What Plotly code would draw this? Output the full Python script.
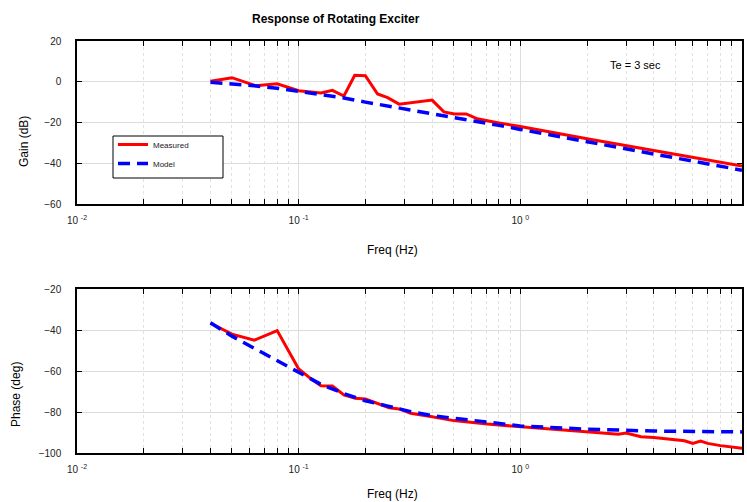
import plotly.graph_objects as go

# ---- data ----
gain_meas_f = [0.04, 0.05, 0.064, 0.08, 0.1, 0.126, 0.142, 0.16, 0.179, 0.2, 0.227, 0.252,
               0.284, 0.315, 0.356, 0.4, 0.452, 0.505, 0.57, 0.64, 0.8, 1.0, 2.0, 4.0, 8.0, 10.0]
gain_meas = [0.2, 2.0, -2.0, -1.0, -4.4, -5.5, -4.2, -7.0, 3.2, 3.0, -6.0, -7.8,
             -11.0, -10.5, -9.8, -9.0, -14.8, -15.8, -15.8, -18.2, -20.2, -22.0, -28.0, -33.6, -39.5, -41.3]

gain_model_f = [0.04, 0.05, 0.063, 0.08, 0.1, 0.126, 0.16, 0.2, 0.25, 0.32, 0.4, 0.5, 0.63,
                0.8, 1.0, 2.0, 4.0, 10.0]
gain_model = [-0.3, -1.0, -2.0, -3.2, -4.7, -6.2, -8.0, -10.0, -11.8, -13.8, -15.6, -17.3,
              -19.3, -21.4, -23.4, -29.4, -35.4, -43.4]

phase_meas_f = [0.04, 0.05, 0.063, 0.08, 0.1, 0.113, 0.126, 0.142, 0.16, 0.18, 0.2, 0.235,
                0.256, 0.284, 0.32, 0.4, 0.5, 0.71, 1.0, 2.0, 2.77, 3.0, 3.5, 4.0, 5.5, 6.0,
                6.5, 7.0, 8.0, 10.0]
phase_meas = [-36.7, -42.0, -45.0, -40.3, -59.0, -63.6, -67.2, -67.3, -71.7, -73.3, -73.7, -76.5,
              -77.9, -78.5, -80.6, -82.3, -84.2, -85.9, -87.2, -89.6, -90.9, -90.3, -92.1, -92.4,
              -94.0, -95.3, -94.2, -95.3, -96.4, -97.7]

phase_model_f = [0.04, 0.05, 0.063, 0.08, 0.1, 0.126, 0.16, 0.2, 0.25, 0.32, 0.4, 0.5, 1.0,
                 2.0, 4.0, 10.0]
phase_model = [-36.5, -43.0, -48.9, -55.0, -60.3, -66.5, -71.0, -74.5, -77.0, -79.8, -81.8,
               -83.0, -86.8, -88.4, -89.3, -89.7]

x_major = [0.01, 0.1, 1, 10]
x_major_text = ["10 <sup>-2</sup>", "10 <sup>-1</sup>", "10 <sup>0</sup>", "10 <sup>1</sup>"]
x_minor = [m * d for d in (0.01, 0.1, 1) for m in range(2, 10)]
gain_ticks = [-60, -40, -20, 0, 20]
phase_ticks = [-100, -80, -60, -40, -20]

FONT = "Liberation Sans, Arial, sans-serif"
RED = "#ff0000"
BLUE = "#0000ff"

fig = go.Figure()
fig.add_trace(go.Scatter(x=gain_meas_f, y=gain_meas, mode="lines", name="Measured",
                         line=dict(color=RED, width=3), xaxis="x", yaxis="y"))
fig.add_trace(go.Scatter(x=gain_model_f, y=gain_model, mode="lines", name="Model",
                         line=dict(color=BLUE, width=3.5, dash="12px,7px"), xaxis="x", yaxis="y"))
fig.add_trace(go.Scatter(x=phase_meas_f, y=phase_meas, mode="lines", showlegend=False,
                         line=dict(color=RED, width=3), xaxis="x2", yaxis="y2"))
fig.add_trace(go.Scatter(x=phase_model_f, y=phase_model, mode="lines", showlegend=False,
                         line=dict(color=BLUE, width=3.5, dash="12px,7px"), xaxis="x2", yaxis="y2"))

W, H = 747, 502
xdom = [77 / W, 742 / W]

def xaxis_cfg(anchor):
    return dict(type="log", range=[-2, 1], domain=xdom, anchor=anchor, automargin=False,
                tickmode="array", tickvals=x_major, ticktext=x_major_text,
                ticks="inside", ticklen=5, tickcolor="black", tickwidth=1,
                showline=True, linecolor="black", linewidth=1.5, mirror="ticks",
                showgrid=True, gridcolor="#dcdcdc", gridwidth=1,
                minor=dict(tickmode="array", tickvals=x_minor, ticks="inside", ticklen=5,
                           tickcolor="black", showgrid=True, gridcolor="#e2e2e2",
                           griddash="dot", gridwidth=1),
                tickfont=dict(family=FONT, size=10, color="#222"), zeroline=False,
                ticklabelstandoff=6)

def yaxis_cfg(anchor, dom, rng, ticks):
    return dict(range=rng, domain=dom, anchor=anchor, automargin=False,
                tickmode="array", tickvals=ticks,
                ticks="inside", ticklen=5, tickcolor="black",
                showline=True, linecolor="black", linewidth=1.5, mirror="ticks",
                showgrid=True, gridcolor="#dcdcdc", gridwidth=1, zeroline=False,
                tickfont=dict(family=FONT, size=10, color="#222"), ticklabelstandoff=12)

fig.update_layout(
    width=W, height=H, margin=dict(l=0, r=0, t=0, b=0),
    paper_bgcolor="white", plot_bgcolor="white",
    font=dict(family=FONT, color="black"),
    xaxis=xaxis_cfg("y"),
    yaxis=yaxis_cfg("x", [(H - 204) / H, (H - 41) / H], [-60, 20], gain_ticks),
    xaxis2=xaxis_cfg("y2"),
    yaxis2=yaxis_cfg("x2", [(H - 453) / H, (H - 289) / H], [-100, -20], phase_ticks),
    legend=dict(x=113 / W, y=1 - 130 / H, xanchor="left", yanchor="top",
                bgcolor="rgba(0,0,0,0)", borderwidth=0,
                font=dict(family=FONT, size=8, color="#222"), itemwidth=30,
                tracegroupgap=0),
    showlegend=True,
)

# legend frame
fig.add_shape(type="rect", xref="paper", yref="paper",
              x0=113 / W, x1=223 / W, y0=1 - 178 / H, y1=1 - 136 / H,
              line=dict(color="black", width=1), fillcolor="white", layer="above")

def ann(text, x, y, size, bold=False, angle=0):
    fig.add_annotation(text=f"<b>{text}</b>" if bold else text, xref="paper", yref="paper",
                       x=x / W, y=1 - y / H, showarrow=False, textangle=angle,
                       font=dict(family=FONT, size=size, color="black"),
                       xanchor="center", yanchor="middle")

ann("Response of Rotating Exciter", 336, 19, 12, bold=True)
ann("Te = 3 sec", 635, 65, 11)
ann("Freq (Hz)", 392, 250, 12)
ann("Freq (Hz)", 392, 494, 12)
ann("Gain (dB)", 24, 141, 12, angle=-90)
ann("Phase (deg)", 16, 395, 12, angle=-90)

fig.write_html("out.html")
